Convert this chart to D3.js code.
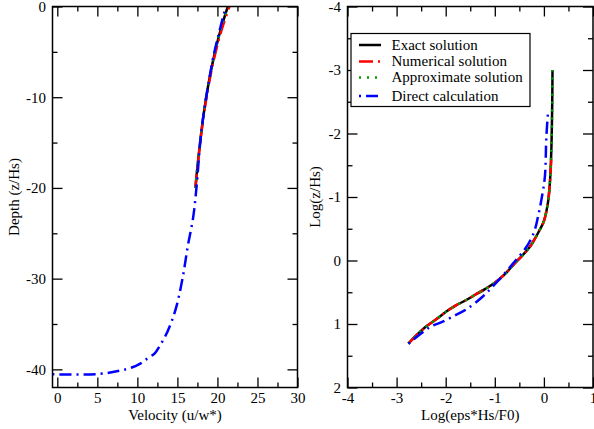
<!DOCTYPE html>
<html>
<head>
<meta charset="utf-8">
<script src="https://cdn.jsdelivr.net/npm/d3@7"></script>
<style>
  body { margin: 0; background: #fff; }
  svg text { font-family: "Liberation Serif", "Times New Roman", serif; font-size: 15px; fill: #000; }
</style>
</head>
<body>
<svg id="chart" width="594" height="429"></svg>
<script>
// left panel: velocity profile
const depthShort = [-20, -17.5, -15, -12.5, -10, -7.5, -5, -2.5, 0]
const exactVel = [17.25, 17.52, 17.83, 18.18, 18.6, 19.1, 19.7, 20.42, 21.3]
const numericalVel = [17.25, 17.53, 17.85, 18.21, 18.64, 19.16, 19.78, 20.55, 21.5]
const approxVel = [17.25, 17.52, 17.83, 18.18, 18.6, 19.1, 19.7, 20.42, 21.3]
const directDepth = [-40.55, -40.5, -40.15, -39.8, -39.4, -38.9, -38.2, -37.4, -36.5, -34.9, -33.0, -29.7, -26.4, -23.3, -19.8, -15.0, -11.7, -8.4, -5.5, -2.9, -0.7, -0.15]
const directVel = [-0.6, 5.3, 7.8, 9.3, 10.3, 11.1, 12.2, 12.8, 13.4, 14.2, 14.9, 15.7, 16.3, 16.96, 17.4, 17.85, 18.3, 18.9, 19.5, 20.2, 20.85, 21.1]

// right panel: log-log profile
const exactLogE = [-2.76, -2.6, -2.4, -2.2, -2.0, -1.8, -1.6, -1.4, -1.2, -1.0, -0.8, -0.6, -0.45, -0.3, -0.2, -0.1, 0.0, 0.08, 0.12, 0.15, 0.17, 0.175]
const exactLogZ = [1.31, 1.18, 1.04, 0.93, 0.81, 0.71, 0.63, 0.54, 0.45, 0.35, 0.22, 0.05, -0.07, -0.2, -0.32, -0.46, -0.62, -0.9, -1.2, -1.7, -2.5, -3.0]
const numericalLogE = exactLogE.slice(0, 20)
const numericalLogZ = [1.31, 1.18, 1.04, 0.93, 0.81, 0.71, 0.63, 0.54, 0.45, 0.35, 0.22, 0.05, -0.07, -0.2, -0.32, -0.46, -0.62, -0.9, -1.2, -1.59]
const approxLogE = exactLogE
const approxLogZ = exactLogZ
const directLogE = [-2.76, -2.5, -2.3, -2.05, -1.8, -1.58, -1.25, -0.97, -0.63, -0.35, -0.2, -0.12, -0.05, 0.02, 0.05, 0.086]
const directLogZ = [1.31, 1.15, 1.04, 0.96, 0.86, 0.77, 0.57, 0.35, 0.05, -0.22, -0.45, -0.69, -0.96, -1.32, -1.95, -2.35]

const velTicks = [0, 5, 10, 15, 20, 25, 30]
const velMinor = [2.5, 7.5, 12.5, 17.5, 22.5, 27.5]
const depthTicks = [0, -10, -20, -30, -40]
const depthMinor = [-5, -15, -25, -35]
const logETicks = [-4, -3, -2, -1, 0, 1]
const logEMinor = [-3.5, -2.5, -1.5, -0.5, 0.5]
const logZTicks = [-4, -3, -2, -1, 0, 1, 2]
const logZMinor = [-3.5, -2.5, -1.5, -0.5, 0.5, 1.5]

const legendNames = ['Exact solution', 'Numerical solution', 'Approximate solution', 'Direct calculation']
const colors = ['#000000', '#ff0000', '#00a000', '#0000ff']
const dashes = [null, '14,5,2,5', '2,6', '2,5,12,5']

const svg = d3.select('#chart')

function panel(opts) {
  const x = d3.scaleLinear().domain(opts.xdom).range([opts.x0, opts.x1])
  const y = d3.scaleLinear().domain(opts.ydom).range([opts.y0, opts.y1])
  const g = svg.append('g')
  const clipId = 'clip' + opts.id
  svg.append('clipPath').attr('id', clipId)
    .append('rect').attr('x', opts.x0).attr('y', opts.y0)
    .attr('width', opts.x1 - opts.x0).attr('height', opts.y1 - opts.y0)

  const h = opts.y1 - opts.y0
  const w = opts.x1 - opts.x0
  const fmt = d => String(d)
  function styleAxis(sel) {
    sel.select('.domain').remove()
    sel.selectAll('line').attr('stroke', '#000').attr('stroke-width', 1.3)
  }
  // bottom
  g.append('g').attr('transform', `translate(0,${opts.y1})`)
    .call(d3.axisBottom(x).tickValues(opts.xt).tickSize(-10).tickPadding(5).tickFormat(fmt))
    .call(styleAxis)
  g.append('g').attr('transform', `translate(0,${opts.y1})`)
    .call(d3.axisBottom(x).tickValues(opts.xm).tickSize(-5).tickFormat(''))
    .call(styleAxis)
  // top
  g.append('g').attr('transform', `translate(0,${opts.y0})`)
    .call(d3.axisTop(x).tickValues(opts.xt).tickSize(-10).tickFormat(''))
    .call(styleAxis)
  g.append('g').attr('transform', `translate(0,${opts.y0})`)
    .call(d3.axisTop(x).tickValues(opts.xm).tickSize(-5).tickFormat(''))
    .call(styleAxis)
  // left
  g.append('g').attr('transform', `translate(${opts.x0},0)`)
    .call(d3.axisLeft(y).tickValues(opts.yt).tickSize(-10).tickPadding(6.5).tickFormat(fmt))
    .call(styleAxis)
  g.append('g').attr('transform', `translate(${opts.x0},0)`)
    .call(d3.axisLeft(y).tickValues(opts.ym).tickSize(-5).tickFormat(''))
    .call(styleAxis)
  // right
  g.append('g').attr('transform', `translate(${opts.x1},0)`)
    .call(d3.axisRight(y).tickValues(opts.yt).tickSize(-10).tickFormat(''))
    .call(styleAxis)
  g.append('g').attr('transform', `translate(${opts.x1},0)`)
    .call(d3.axisRight(y).tickValues(opts.ym).tickSize(-5).tickFormat(''))
    .call(styleAxis)

  g.selectAll('.tick text')
    .attr('font-family', '"Liberation Serif", serif').attr('font-size', 15).attr('fill', '#000')

  const line = d3.line().x(d => x(d[0])).y(d => y(d[1])).curve(d3.curveCatmullRom)
  const lines = g.append('g').attr('clip-path', `url(#${clipId})`)
  opts.series.forEach((s, i) => {
    lines.append('path')
      .attr('d', line(d3.zip(s[0], s[1])))
      .attr('fill', 'none')
      .attr('stroke', colors[i])
      .attr('stroke-width', 2.5)
      .attr('stroke-dasharray', dashes[i])
  })

  g.append('rect').attr('x', opts.x0).attr('y', opts.y0).attr('width', w).attr('height', h)
    .attr('fill', 'none').attr('stroke', '#000').attr('stroke-width', 1.5)

  g.append('text').attr('x', (opts.x0 + opts.x1) / 2).attr('y', 420)
    .attr('text-anchor', 'middle').text(opts.xlabel)
  g.append('text').attr('transform', `translate(${opts.ylabX},${(opts.y0 + opts.y1) / 2}) rotate(-90)`)
    .attr('text-anchor', 'middle').text(opts.ylabel)
  return { x, y, g }
}

panel({
  id: 'L', x0: 52.5, x1: 297.5, y0: 6.5, y1: 387.5,
  xdom: [-0.6, 30], ydom: [0, -42],
  xt: velTicks, xm: velMinor, yt: depthTicks, ym: depthMinor,
  xlabel: 'Velocity (u/w*)', ylabel: 'Depth (z/Hs)', ylabX: 19,
  series: [
    [exactVel, depthShort],
    [numericalVel, depthShort],
    [approxVel, depthShort],
    [directVel, directDepth]
  ]
})

panel({
  id: 'R', x0: 347.5, x1: 593, y0: 6.5, y1: 387.5,
  xdom: [-4, 1], ydom: [-4, 2],
  xt: logETicks, xm: logEMinor, yt: logZTicks, ym: logZMinor,
  xlabel: 'Log(eps*Hs/F0)', ylabel: 'Log(z/Hs)', ylabX: 320,
  series: [
    [exactLogE, exactLogZ],
    [numericalLogE, numericalLogZ],
    [approxLogE, approxLogZ],
    [directLogE, directLogZ]
  ]
})

// legend
const leg = svg.append('g')
leg.append('rect').attr('x', 351).attr('y', 33.5).attr('width', 179).attr('height', 73)
  .attr('fill', '#fff').attr('stroke', '#000').attr('stroke-width', 1.2)
const legRowY = [45, 61.5, 77.5, 96]
legendNames.forEach((name, i) => {
  leg.append('line').attr('x1', 359).attr('x2', 381).attr('y1', legRowY[i]).attr('y2', legRowY[i])
    .attr('stroke', colors[i]).attr('stroke-width', 2.5).attr('stroke-dasharray', dashes[i])
  leg.append('text').attr('x', 391.5).attr('y', legRowY[i]).attr('dy', '0.33em').text(name)
})
</script>
</body>
</html>
